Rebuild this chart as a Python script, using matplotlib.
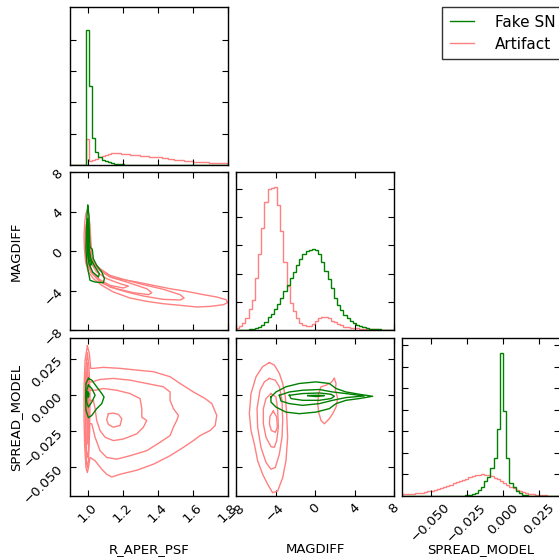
import numpy as np
import matplotlib
matplotlib.use("Agg")
import matplotlib.pyplot as plt
from matplotlib.lines import Line2D

# ---------------- data ----------------
labels = ["R_APER_PSF", "MAGDIFF", "SPREAD_MODEL"]
ranges = [(0.9, 1.8), (-8.0, 8.0), (-0.0700, 0.0398)]
ticks = [[1.0, 1.2, 1.4, 1.6, 1.8], [-8, -4, 0, 4, 8], [-0.050, -0.025, 0.000, 0.025]]
tick_labels = [["1.0", "1.2", "1.4", "1.6", "1.8"],
               ["\u22128", "\u22124", "0", "4", "8"],
               ["\u22120.050", "\u22120.025", "0.000", "0.025"]]
series_names = ["Fake SN", "Artifact"]
n_bins = 50

# 1-D histograms (bin heights, 50 bins across each range)
fake_r_aper = [0, 0, 0, 0, 0, 4.30, 2.52, 0.87, 0.42, 0.26, 0.17, 0.12, 0.08, 0.05, 0.04,
               0.03, 0.02, 0.015, 0.01, 0.01, 0.005] + [0] * 29
art_r_aper = [0, 0, 0, 0, 0, 0.82, 0.13, 0.15, 0.2, 0.25, 0.29, 0.32, 0.35, 0.37, 0.37,
              0.37, 0.36, 0.35, 0.34, 0.33, 0.32, 0.31, 0.3, 0.29, 0.28, 0.27, 0.26, 0.25,
              0.24, 0.22, 0.21, 0.2, 0.19, 0.17, 0.16, 0.15, 0.14, 0.13, 0.12, 0.11, 0.1,
              0.09, 0.085, 0.08, 0.075, 0.07, 0.065, 0.06, 0.055, 0.05]
fake_magdiff = [0, 0, 0, 0.01, 0.02, 0.04, 0.07, 0.11, 0.19, 0.3, 0.45, 0.58, 0.76, 0.93,
                1.15, 1.38, 1.6, 1.83, 2.05, 2.3, 2.5, 2.68, 2.8, 2.85, 2.86, 2.82, 2.68,
                2.42, 2.1, 1.8, 1.5, 1.15, 0.9, 0.7, 0.53, 0.41, 0.32, 0.24, 0.18, 0.13,
                0.09, 0.07, 0.05, 0.04, 0.03, 0.02, 0.015, 0.01, 0.005, 0.0]
art_magdiff = [0.08, 0.14, 0.26, 0.44, 0.74, 1.05, 1.85, 2.7, 3.6, 4.53, 5.0, 5.03, 5.07,
               4.44, 3.5, 2.4, 1.55, 0.96, 0.67, 0.41, 0.26, 0.17, 0.15, 0.15, 0.2, 0.32,
               0.41, 0.47, 0.47, 0.42, 0.33, 0.27, 0.2, 0.17, 0.12, 0.1, 0.08, 0.07, 0.06,
               0.05, 0.04, 0.035, 0.03, 0.025, 0.02, 0.015, 0.01, 0.01, 0.005, 0.005]
fake_spread = [0] * 18 + [0.01, 0.02, 0.03, 0.05, 0.09, 0.16, 0.26, 0.42, 0.7, 0.88, 1.32,
                          1.77, 3.1, 6.65, 3.94, 1.74, 0.6, 0.4, 0.25, 0.14, 0.06, 0.03,
                          0.01] + [0] * 9
art_spread = [0.07, 0.08, 0.09, 0.10, 0.12, 0.14, 0.16, 0.19, 0.22, 0.25, 0.29, 0.33, 0.38,
              0.43, 0.48, 0.53, 0.59, 0.65, 0.70, 0.76, 0.81, 0.86, 0.92, 0.96, 0.99, 1.0,
              0.99, 0.96, 0.91, 0.84, 0.77, 0.69, 0.6, 0.52, 0.44, 0.36, 0.29, 0.23, 0.18,
              0.14, 0.11, 0.08, 0.06, 0.045, 0.035, 0.025, 0.02, 0.015, 0.01, 0.01]
hist_ylims = [5.04, 5.6, 7.33]
hist_yticks = [[1, 2, 3, 4], [1, 2, 3, 4, 5], [1, 2, 3, 4, 5, 6, 7]]

# 2-D density contours (x, y)
# MAGDIFF vs R_APER_PSF
art_mag_r_1 = [(0.999, 4.10), (1.007, 3.60), (1.014, 2.60), (1.018, 1.25), (1.022, 0.24),
               (1.025, -0.61), (1.037, -1.28), (1.062, -1.79), (1.100, -2.30), (1.147, -2.74),
               (1.204, -2.90), (1.280, -3.14), (1.375, -3.48), (1.470, -3.82), (1.565, -4.09),
               (1.660, -4.42), (1.736, -4.66), (1.789, -4.93), (1.797, -5.23), (1.774, -5.44),
               (1.698, -5.61), (1.622, -5.67), (1.527, -5.50), (1.432, -5.34), (1.337, -5.10),
               (1.242, -4.76), (1.147, -4.15), (1.081, -3.48), (1.033, -2.80), (1.005, -2.13),
               (0.989, -1.12), (0.982, 0.24), (0.980, 1.59), (0.985, 3.10), (0.991, 3.80),
               (0.999, 4.10)]
art_mag_r_2 = [(0.999, 2.94), (1.008, 2.26), (1.014, 0.57), (1.022, -0.44), (1.037, -1.18),
               (1.071, -1.79), (1.128, -2.47), (1.204, -2.87), (1.318, -3.41), (1.432, -3.88),
               (1.527, -4.42), (1.550, -4.76), (1.527, -4.96), (1.432, -4.90), (1.318, -4.56),
               (1.223, -4.15), (1.128, -3.65), (1.062, -2.97), (1.018, -2.13), (0.995, -1.12),
               (0.987, 0.24), (0.987, 1.59), (0.991, 2.60), (0.999, 2.94)]
art_mag_r_3 = [(1.001, 2.26), (1.008, 1.25), (1.014, -0.10), (1.029, -1.12), (1.062, -1.86),
               (1.128, -2.63), (1.223, -3.14), (1.337, -3.82), (1.366, -4.22), (1.347, -4.42),
               (1.261, -4.22), (1.166, -3.82), (1.090, -3.31), (1.037, -2.47), (1.006, -1.45),
               (0.995, -0.10), (0.995, 1.25), (1.001, 2.26)]
art_mag_r_4 = [(1.001, 1.59), (1.006, 0.57), (1.010, -0.44), (1.022, -1.28), (1.052, -2.13),
               (1.109, -2.80), (1.185, -3.31), (1.233, -3.55), (1.204, -3.75), (1.128, -3.48),
               (1.067, -2.87), (1.025, -2.06), (1.005, -1.12), (0.997, -0.10), (0.997, 0.91),
               (1.001, 1.59)]
fake_mag_r_1 = [(1.001, 4.62), (1.008, 3.61), (1.010, 1.92), (1.014, 0.40), (1.027, 0.17),
                (1.033, -0.78), (1.052, -1.45), (1.081, -2.13), (1.096, -2.80), (1.090, -3.21),
                (1.043, -3.14), (1.014, -2.97), (1.005, -2.13), (0.995, -1.12), (0.991, 0.24),
                (0.993, 1.92), (0.997, 3.61), (1.001, 4.62)]
fake_mag_r_2 = [(1.001, 3.27), (1.006, 1.92), (1.008, 0.24), (1.018, -0.78), (1.037, -1.45),
                (1.067, -2.30), (1.062, -2.63), (1.029, -2.13), (1.008, -1.28), (0.999, -0.10),
                (0.997, 1.59), (1.001, 3.27)]
fake_mag_r_3 = [(1.003, 1.92), (1.006, 0.57), (1.014, -0.61), (1.025, -1.28), (1.018, -1.45),
                (1.005, -0.61), (0.999, 0.57), (1.003, 1.92)]

# SPREAD_MODEL vs R_APER_PSF
art_spr_r_1 = [(0.999, 0.0343), (1.010, 0.0292), (1.018, 0.0187), (1.033, 0.0187),
               (1.090, 0.0194), (1.185, 0.0187), (1.280, 0.0175), (1.375, 0.0164),
               (1.470, 0.0129), (1.527, 0.0082), (1.603, 0.0023), (1.670, -0.0023),
               (1.708, -0.0058), (1.736, -0.0140), (1.727, -0.0210), (1.698, -0.0245),
               (1.641, -0.0280), (1.603, -0.0315), (1.546, -0.0362), (1.470, -0.0420),
               (1.375, -0.0479), (1.280, -0.0521), (1.185, -0.0549), (1.138, -0.0568),
               (1.109, -0.0549), (1.081, -0.0514), (1.043, -0.0455), (1.014, -0.0432),
               (1.005, -0.0502), (0.999, -0.0537), (0.991, -0.0502), (0.984, -0.0362),
               (0.980, -0.0175), (0.980, 0.0059), (0.986, 0.0245), (0.999, 0.0343)]
art_spr_r_2 = [(1.012, 0.0093), (1.024, 0.0093), (1.071, 0.0110), (1.147, 0.0117),
               (1.242, 0.0105), (1.337, 0.0082), (1.432, 0.0059), (1.470, 0.0023),
               (1.470, -0.0035), (1.489, -0.0093), (1.518, -0.0140), (1.508, -0.0175),
               (1.489, -0.0222), (1.470, -0.0280), (1.413, -0.0327), (1.337, -0.0385),
               (1.242, -0.0420), (1.166, -0.0444), (1.109, -0.0432), (1.071, -0.0385),
               (1.043, -0.0292), (1.024, -0.0198), (1.012, -0.0198)]
art_spr_r_2s = [(0.999, 0.0292), (1.008, 0.0199), (1.014, 0.0012), (1.012, -0.0245),
                (1.005, -0.0455), (0.999, -0.0502), (0.993, -0.0455), (0.987, -0.0245),
                (0.987, 0.0012), (0.991, 0.0199), (0.999, 0.0292)]
art_spr_r_3 = [(1.008, 0.0035), (1.043, 0.0035), (1.090, 0.0047), (1.166, 0.0035),
               (1.242, 0.0012), (1.299, -0.0023), (1.309, -0.0093), (1.309, -0.0152),
               (1.337, -0.0175), (1.318, -0.0222), (1.280, -0.0268), (1.204, -0.0304),
               (1.147, -0.0315), (1.100, -0.0292), (1.071, -0.0245), (1.052, -0.0175),
               (1.043, -0.0093), (1.033, -0.0035), (1.008, -0.0035)]
art_spr_r_3s = [(0.999, 0.0222), (1.006, 0.0059), (1.008, -0.0175), (1.005, -0.0385),
                (0.999, -0.0432), (0.993, -0.0385), (0.991, -0.0175), (0.991, 0.0059),
                (0.999, 0.0222)]
art_spr_r_4 = [(1.119, -0.0128), (1.147, -0.0124), (1.176, -0.0133), (1.195, -0.0163),
               (1.185, -0.0210), (1.147, -0.0222), (1.119, -0.0203), (1.109, -0.0170),
               (1.119, -0.0128)]
art_spr_r_4s = [(0.999, 0.0129), (1.003, -0.0012), (1.005, -0.0175), (1.001, -0.0339),
                (0.997, -0.0175), (0.995, -0.0012), (0.999, 0.0129)]
fake_spr_r_1 = [(1.005, 0.0117), (1.024, 0.0105), (1.052, 0.0059), (1.081, 0.0012),
                (1.094, -0.0012), (1.081, -0.0058), (1.052, -0.0093), (1.024, -0.0140),
                (1.005, -0.0156), (0.991, -0.0105), (0.989, -0.0012), (0.991, 0.0082),
                (1.005, 0.0117)]
fake_spr_r_2 = [(1.005, 0.0070), (1.024, 0.0047), (1.043, 0.0000), (1.024, -0.0047),
                (1.005, -0.0082), (0.995, -0.0047), (0.995, 0.0035), (1.005, 0.0070)]
fake_spr_r_3 = [(1.001, 0.0023), (1.008, 0.0012), (1.006, -0.0012), (0.999, -0.0012),
                (1.001, 0.0023)]

# SPREAD_MODEL vs MAGDIFF
art_spr_m_1 = [(-4.62, 0.0227), (-4.12, 0.0210), (-3.61, 0.0152), (-3.27, 0.0082),
               (-3.00, -0.0012), (-2.87, -0.0128), (-2.77, -0.0292), (-2.94, -0.0455),
               (-3.27, -0.0572), (-3.78, -0.0666), (-4.29, -0.0677), (-4.79, -0.0619),
               (-5.30, -0.0549), (-5.81, -0.0455), (-6.14, -0.0339), (-6.48, -0.0245),
               (-6.65, -0.0128), (-6.48, 0.0012), (-5.97, 0.0129), (-5.30, 0.0199),
               (-4.62, 0.0227)]
art_spr_m_2 = [(-4.62, 0.0117), (-4.02, 0.0105), (-3.61, 0.0059), (-3.34, -0.0035),
               (-3.27, -0.0175), (-3.34, -0.0292), (-3.61, -0.0409), (-4.02, -0.0502),
               (-4.46, -0.0514), (-4.96, -0.0467), (-5.47, -0.0362), (-5.81, -0.0222),
               (-5.87, -0.0093), (-5.57, 0.0035), (-5.13, 0.0093), (-4.62, 0.0117)]
art_spr_m_3 = [(-4.46, 0.0012), (-3.95, -0.0012), (-3.78, -0.0105), (-3.71, -0.0222),
               (-3.88, -0.0315), (-4.12, -0.0362), (-4.46, -0.0357), (-4.96, -0.0292),
               (-5.23, -0.0198), (-5.23, -0.0093), (-4.96, -0.0023), (-4.46, 0.0012)]
art_spr_m_4 = [(-4.22, -0.0110), (-3.88, -0.0152), (-3.81, -0.0222), (-4.02, -0.0257),
               (-4.42, -0.0245), (-4.62, -0.0198), (-4.56, -0.0147), (-4.22, -0.0110)]
art_spr_m_b = [(1.96, 0.0117), (2.13, 0.0082), (2.06, 0.0035), (2.30, -0.0023),
               (2.13, -0.0082), (1.79, -0.0128), (1.45, -0.0163), (0.95, -0.0198),
               (0.61, -0.0175), (0.37, -0.0117), (0.27, -0.0058), (0.37, 0.0012),
               (0.61, 0.0059), (1.12, 0.0070), (1.62, 0.0087), (1.96, 0.0117)]
fake_spr_m_1 = [(-4.46, -0.0012), (-3.95, 0.0023), (-2.94, 0.0059), (-1.59, 0.0082),
                (0.10, 0.0093), (1.45, 0.0082), (2.13, 0.0047), (3.14, 0.0023),
                (4.49, 0.0007), (5.84, -0.0007), (4.49, -0.0023), (3.14, -0.0035),
                (2.13, -0.0058), (1.45, -0.0093), (0.10, -0.0117), (-1.59, -0.0128),
                (-2.94, -0.0117), (-3.95, -0.0082), (-4.46, -0.0047), (-4.46, -0.0012)]
fake_spr_m_2 = [(-3.61, 0.0000), (-2.60, 0.0023), (-1.25, 0.0035), (0.44, 0.0040),
                (1.79, 0.0023), (3.14, 0.0012), (5.00, -0.0005), (3.14, -0.0016),
                (1.79, -0.0035), (0.44, -0.0058), (-1.25, -0.0070), (-2.60, -0.0058),
                (-3.44, -0.0040), (-3.61, 0.0000)]
fake_spr_m_3 = [(-2.60, 0.0000), (-1.25, 0.0012), (0.44, 0.0016), (1.62, 0.0007),
                (1.96, -0.0007), (1.62, -0.0023), (0.44, -0.0035), (-1.25, -0.0035),
                (-2.43, -0.0023), (-2.60, 0.0000)]
fake_spr_m_4 = [(-0.74, -0.0002), (0.10, 0.0000), (0.95, -0.0002), (0.10, -0.0009),
                (-0.74, -0.0002)]

# ---------------- style ----------------
c_fake = "green"
c_art = "#ff8080"
lw = 1.0
fs_tick = 9.5
fs_label = 9.5

W, H = 559, 558
fig = plt.figure(figsize=(W / 100, H / 100), dpi=100)
col_left = [70, 236, 402]
row_top = [7, 172, 338]
size = 158

axes = {}
for i in range(3):
    for j in range(i + 1):
        ax = fig.add_axes([col_left[j] / W, 1 - (row_top[i] + size) / H, size / W, size / H])
        axes[(i, j)] = ax
        ax.tick_params(direction="in", top=True, right=True, length=4, width=0.8,
                       labelsize=fs_tick)
        for sp in ax.spines.values():
            sp.set_linewidth(1.0)
        ax.set_xlim(*ranges[j])
        ax.set_xticks(ticks[j])
        if i == 2:
            ax.set_xticklabels(tick_labels[j], rotation=45)
            ax.set_xlabel(labels[j], fontsize=fs_label)
            ax.xaxis.set_label_coords(0.5, -0.3)
        else:
            ax.set_xticklabels([])
        if i != j:
            ax.set_ylim(*ranges[i])
            ax.set_yticks(ticks[i])
            if j == 0:
                ax.set_yticklabels(tick_labels[i], rotation=45)
                ax.set_ylabel(labels[i], fontsize=fs_label)
                ax.yaxis.set_label_coords(-0.3, 0.5)
            else:
                ax.set_yticklabels([])

# histograms
hist_data = [(fake_r_aper, art_r_aper), (fake_magdiff, art_magdiff), (fake_spread, art_spread)]
for k, (fv, av) in enumerate(hist_data):
    ax = axes[(k, k)]
    edges = np.linspace(ranges[k][0], ranges[k][1], n_bins + 1)
    ax.stairs(av, edges, color=c_art, lw=lw)
    ax.stairs(fv, edges, color=c_fake, lw=lw)
    ax.set_ylim(0, hist_ylims[k])
    ax.set_yticks(hist_yticks[k])
    ax.set_yticklabels([])


def draw(ax, pts, color):
    arr = np.array(pts)
    ax.plot(arr[:, 0], arr[:, 1], color=color, lw=lw)


for pts in [art_mag_r_1, art_mag_r_2, art_mag_r_3, art_mag_r_4]:
    draw(axes[(1, 0)], pts, c_art)
for pts in [fake_mag_r_1, fake_mag_r_2, fake_mag_r_3]:
    draw(axes[(1, 0)], pts, c_fake)

for pts in [art_spr_r_1, art_spr_r_2, art_spr_r_2s, art_spr_r_3, art_spr_r_3s,
            art_spr_r_4, art_spr_r_4s]:
    draw(axes[(2, 0)], pts, c_art)
for pts in [fake_spr_r_1, fake_spr_r_2, fake_spr_r_3]:
    draw(axes[(2, 0)], pts, c_fake)

for pts in [art_spr_m_1, art_spr_m_2, art_spr_m_3, art_spr_m_4, art_spr_m_b]:
    draw(axes[(2, 1)], pts, c_art)
for pts in [fake_spr_m_1, fake_spr_m_2, fake_spr_m_3, fake_spr_m_4]:
    draw(axes[(2, 1)], pts, c_fake)

handles = [Line2D([], [], color=c_fake, lw=lw), Line2D([], [], color=c_art, lw=lw)]
leg = fig.legend(handles, series_names, loc="upper left",
                 bbox_to_anchor=(442 / W, 1 - 7 / H), bbox_transform=fig.transFigure,
                 fontsize=11, frameon=True, fancybox=False, borderaxespad=0,
                 handlelength=1.6, handletextpad=1.35, borderpad=0.5, labelspacing=0.45)
leg.get_frame().set_edgecolor("black")
leg.get_frame().set_linewidth(1.0)

fig.savefig("out.png", dpi=100)
